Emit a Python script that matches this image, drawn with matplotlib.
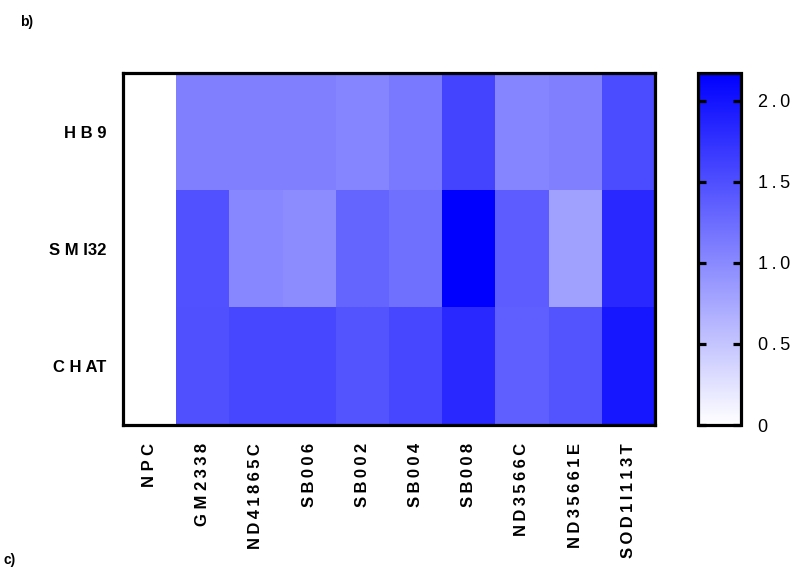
import numpy as np
import matplotlib.pyplot as plt
from matplotlib.colors import LinearSegmentedColormap

plt.rcParams['font.family'] = ['Liberation Sans', 'DejaVu Sans']

# Дані теплової карти
cell_lines = ["N P C", "G M 2338", "ND41865C", "SB006", "SB002", "SB004",
              "SB008", "ND3566C", "ND35661E", "SOD1I113T"]
markers = ["H B 9", "S M I32", "C H AT"]

hb9 = [0.0, 1.08, 1.08, 1.08, 1.04, 1.13, 1.59, 1.04, 1.08, 1.53]
smi32 = [0.0, 1.47, 1.02, 0.98, 1.32, 1.22, 2.17, 1.39, 0.81, 1.83]
chat = [0.0, 1.49, 1.56, 1.56, 1.45, 1.56, 1.83, 1.36, 1.45, 1.98]

cbar_ticks = [0, 0.5, 1.0, 1.5, 2.0]
cbar_labels = ["0", "0.5", "1.0", "1.5", "2.0"]

vmax = 2.17
data = np.array([hb9, smi32, chat])


def spaced(s):
    # розрідження літер як у GraphPad
    out = ""
    for i, ch in enumerate(s):
        out += ch
        if i < len(s) - 1 and ch != " " and s[i + 1] != " ":
            out += "\u2009"
    return out


cmap = LinearSegmentedColormap.from_list("wb", ["#ffffff", "#0000ff"])

fig = plt.figure(figsize=(7.95, 5.67), dpi=100)
ax = fig.add_axes([123 / 795, 142 / 567, 532 / 795, 352 / 567])
cax = fig.add_axes([698 / 795, 142 / 567, 43 / 795, 352 / 567])

im = ax.imshow(data, cmap=cmap, vmin=0, vmax=vmax, aspect='auto',
               interpolation='nearest')

ax.set_xticks(range(len(cell_lines)))
ax.set_xticklabels([spaced(c) for c in cell_lines], rotation=90,
                   fontsize=12, fontweight='bold')
ax.set_yticks(range(len(markers)))
ax.set_yticklabels(markers, fontsize=12, fontweight='bold')
ax.tick_params(axis='x', length=0, pad=13)
ax.tick_params(axis='y', length=0, pad=12)
for lab in ax.get_xticklabels():
    lab.set_verticalalignment('top')
for s in ax.spines.values():
    s.set_linewidth(2.3)

cb = fig.colorbar(im, cax=cax, ticks=cbar_ticks)
cb.ax.set_yticklabels([spaced(t) for t in cbar_labels])
cb.ax.tick_params(axis='y', which='both', direction='in', length=6, width=2.3,
                  left=True, right=True, labelsize=13, pad=12)
cb.outline.set_linewidth(2.3)

fig.text(20 / 795, 1 - 22 / 567, "b)", fontsize=10, fontweight='bold',
         va='center')
fig.text(4 / 795, 1 - 560 / 567, "c)", fontsize=10, fontweight='bold',
         va='center')

plt.savefig("out.png", dpi=100)
